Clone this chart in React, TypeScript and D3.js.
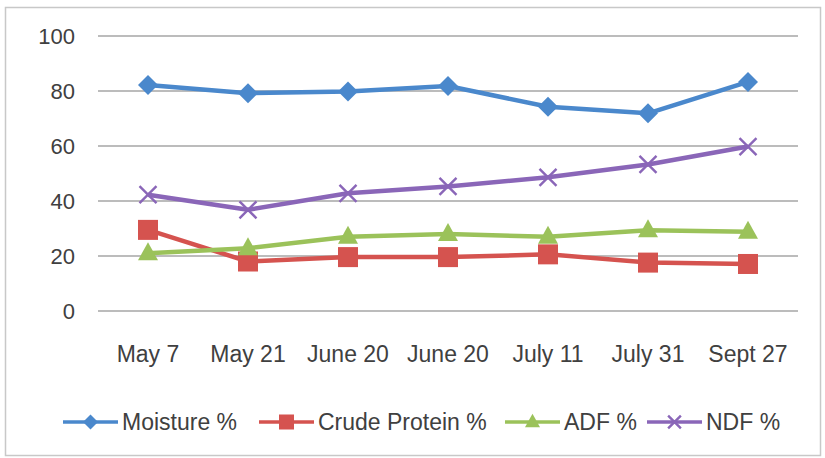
import * as d3 from 'd3';

const categories = ['May 7', 'May 21', 'June 20', 'June 20 ', 'July 11', 'July 31', 'Sept 27'];
const moisture = [82.2, 79.2, 79.8, 81.8, 74.3, 71.9, 83.3];
const crudeProtein = [29.5, 18, 19.6, 19.6, 20.6, 17.6, 17.1];
const adf = [21, 22.8, 27, 28, 27, 29.4, 28.8];
const ndf = [42.3, 36.8, 42.8, 45.3, 48.6, 53.3, 59.8];
const yTicks = [0, 20, 40, 60, 80, 100];

const series = [
  { name: 'Moisture %', values: moisture, color: '#4a88cc', marker: 'diamond' },
  { name: 'Crude Protein %', values: crudeProtein, color: '#d5534f', marker: 'square' },
  { name: 'ADF %', values: adf, color: '#9bc25a', marker: 'triangle' },
  { name: 'NDF %', values: ndf, color: '#8a66b8', marker: 'x' },
];

const W = 825;
const H = 458;
const font = "'Liberation Sans', Arial, sans-serif";

function Marker({ type, x, y, color, k = 1 }: { type: string; x: number; y: number; color: string; k?: number }) {
  if (type === 'diamond') {
    const s = 10 * k;
    return <path d={`M${x},${y - s}L${x + s},${y}L${x},${y + s}L${x - s},${y}Z`} fill={color} />;
  }
  if (type === 'square') {
    const s = 10 * k;
    return <rect x={x - s} y={y - s} width={2 * s} height={2 * s} fill={color} />;
  }
  if (type === 'triangle') {
    const s = 10 * k;
    return <path d={`M${x},${y - s * 1.1}L${x + s},${y + s * 0.7}L${x - s},${y + s * 0.7}Z`} fill={color} />;
  }
  const s = 8.5 * k;
  return (
    <path d={`M${x - s},${y - s}L${x + s},${y + s}M${x + s},${y - s}L${x - s},${y + s}`} stroke={color} strokeWidth={2.4} />
  );
}

export default function App() {
  const x = d3.scalePoint<string>().domain(categories).range([148, 748]);
  const y = d3.scaleLinear().domain([0, 100]).range([311, 36]);
  const line = d3
    .line<number>()
    .x((_, i) => x(categories[i])!)
    .y((d) => y(d));

  const legendX = [63, 259, 505, 647];

  return (
    <svg width={W} height={H} style={{ position: 'absolute', left: 0, top: 0 }}>
      <rect x={0} y={0} width={W} height={H} fill="#fff" />
      <rect x={5.5} y={7.5} width={815} height={448} fill="none" stroke="#c8c8c8" strokeWidth={1.5} />
      {yTicks.map((t) => (
        <g key={t}>
          <line x1={98} x2={798} y1={y(t)} y2={y(t)} stroke="#a6a6a6" strokeWidth={1.5} />
          <text x={75} y={y(t)} dy="0.35em" textAnchor="end" fontFamily={font} fontSize={22} fill="#404040">
            {t}
          </text>
        </g>
      ))}
      {categories.map((c) => (
        <text key={c} x={x(c)!} y={354} dy="0.35em" textAnchor="middle" fontFamily={font} fontSize={23} fill="#404040">
          {c.trim()}
        </text>
      ))}
      {series.map((s) => (
        <g key={s.name}>
          <path d={line(s.values) || ''} fill="none" stroke={s.color} strokeWidth={4.5} strokeLinejoin="round" />
          {s.values.map((v, i) => (
            <Marker key={i} type={s.marker} x={x(categories[i])!} y={y(v)} color={s.color} />
          ))}
        </g>
      ))}
      {series.map((s, i) => (
        <g key={s.name}>
          <line x1={legendX[i]} x2={legendX[i] + 55} y1={422} y2={422} stroke={s.color} strokeWidth={3.5} />
          <Marker type={s.marker} x={legendX[i] + 27.5} y={422} color={s.color} k={0.75} />
          <text x={legendX[i] + 59} y={422} dy="0.35em" fontFamily={font} fontSize={23} fill="#404040">
            {s.name}
          </text>
        </g>
      ))}
    </svg>
  );
}
